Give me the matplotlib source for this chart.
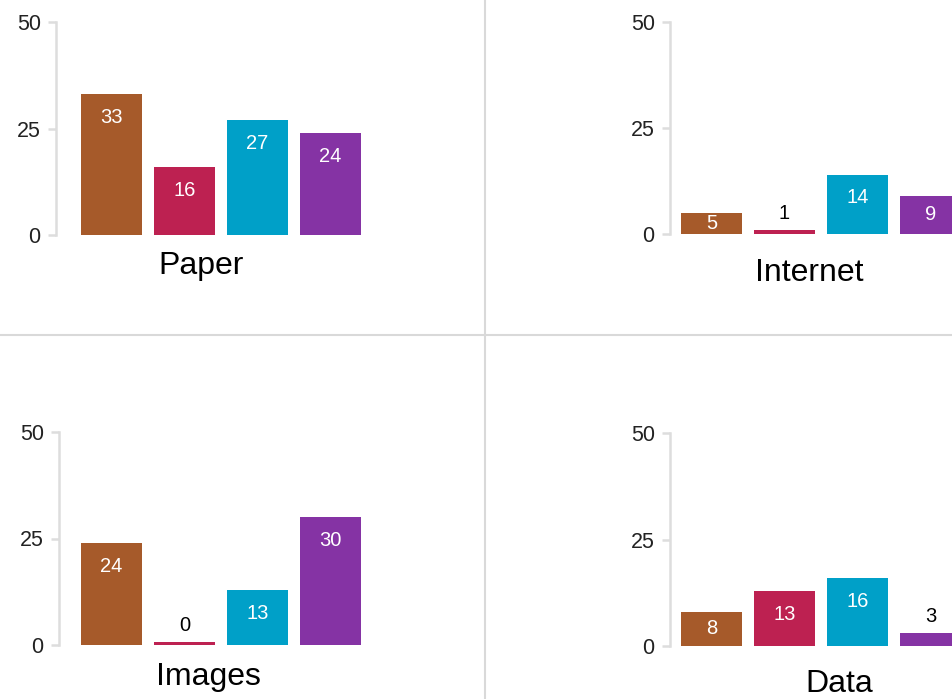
import numpy as np
import matplotlib.pyplot as plt
from matplotlib.lines import Line2D

plt.rcParams['font.family'] = ['Liberation Sans', 'DejaVu Sans']

# data
panels = ['Paper', 'Internet', 'Images', 'Data']
paper = [33, 16, 27, 24]
internet = [5, 1, 14, 9]
images = [24, 0, 13, 30]
data = [8, 13, 16, 3]
yticks = [0, 25, 50]

colors = ['#a65a2a', '#bd2151', '#00a0c8', '#8533a4']

W, H = 952, 699
fig = plt.figure(figsize=(W / 100, H / 100), dpi=100)

# layout in pixels: spine x, y of zero, y of 50, first bar centre, label x, label baseline
layout = [
    (56, 235, 22, 111.5, 201, 274),
    (670, 234, 22, 711.5, 809, 281),
    (59, 645, 432, 111.5, 208, 685),
    (670, 646, 433, 711.5, 839, 692),
]
step = 73.0   # px between bars
bw = 61.0 / step

def px2fig(x, y):
    return x / W, 1 - y / H

for name, vals, (sx, y0, y50, c0, lx, ly) in zip(panels, [paper, internet, images, data], layout):
    xmin = -(c0 - sx) / step
    xmax = 3.7
    left, bottom = px2fig(sx, y0)
    ax = fig.add_axes([left, bottom, (xmax - xmin) * step / W, (y0 - y50) / H])
    x = np.arange(len(vals))
    shown = np.maximum(vals, 0.7)
    ax.bar(x, shown, width=bw, color=colors)
    ax.set_xlim(xmin, xmax)
    ax.set_ylim(0, 50)
    for s in ['top', 'right', 'bottom']:
        ax.spines[s].set_visible(False)
    ax.spines['left'].set_color('#dddddd')
    ax.spines['left'].set_linewidth(1.8)
    ax.set_xticks([])
    ax.set_yticks(yticks)
    ax.tick_params(axis='y', color='#dddddd', width=1.8, length=6, pad=5,
                   labelsize=15.5, labelcolor='#222222')
    ax.patch.set_alpha(0)
    for xi, v in zip(x, vals):
        if v >= 5:
            ax.text(xi, max(v - 5.5, v / 2.0), str(v), ha='center', va='center',
                    color='white', fontsize=14.5)
        else:
            ax.annotate(str(v), (xi, max(v, 0.7)), xytext=(0, 12), textcoords='offset points',
                        ha='center', va='center', color='black', fontsize=14.5)
    tx, ty = px2fig(lx, ly)
    fig.text(tx, ty, name, ha='center', va='baseline', fontsize=23, color='black')

# separators
fig.add_artist(Line2D([485 / W, 485 / W], [0, 1], color='#d9d9d9', lw=1.5))
fig.add_artist(Line2D([0, 1], [1 - 335 / H, 1 - 335 / H], color='#d9d9d9', lw=1.5))

fig.savefig('out.png', dpi=100)
